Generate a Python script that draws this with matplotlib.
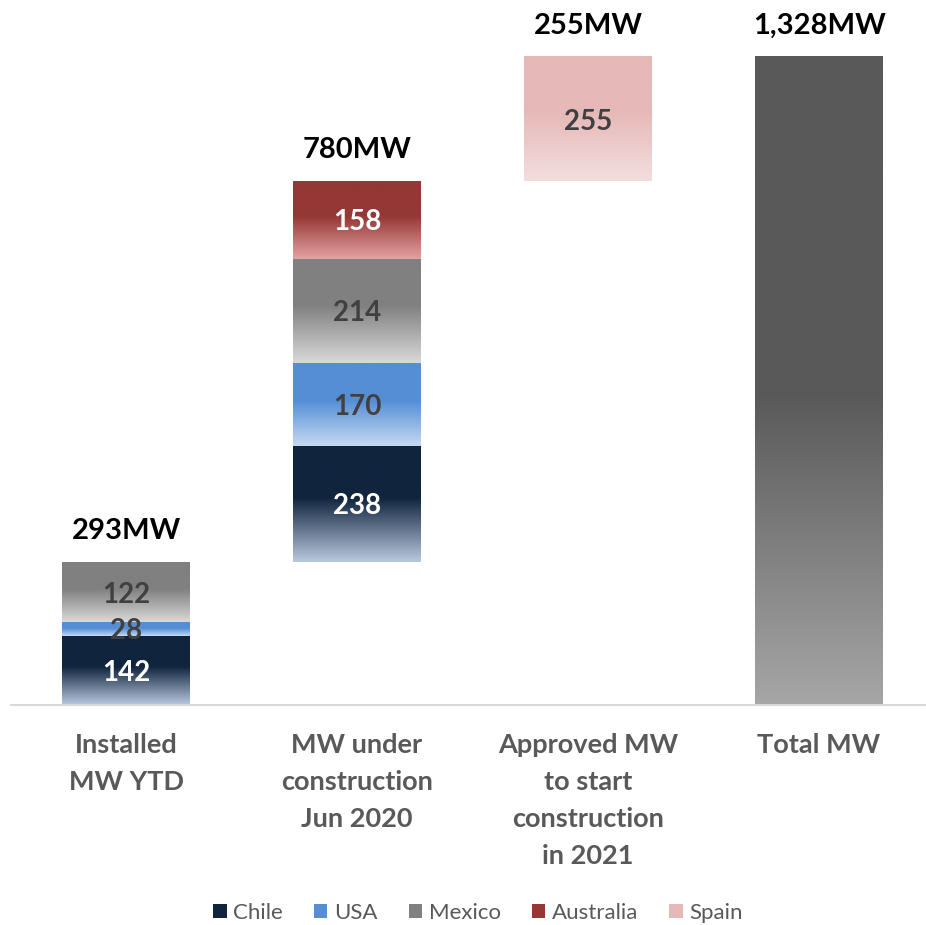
import numpy as np
import matplotlib.pyplot as plt
from matplotlib.colors import to_rgb
from matplotlib.patches import Patch

# stages of the waterfall
categories = ['Installed\nMW YTD', 'MW under\nconstruction\nJun 2020',
              'Approved MW\nto start\nconstruction\nin 2021', 'Total MW']
stage_mw = [293, 780, 255, 1328]
stage_labels = ['293MW', '780MW', '255MW', '1,328MW']

# MW by country for each stage
countries = ['Chile', 'USA', 'Mexico', 'Australia', 'Spain']
chile = [142, 238, 0, 0]
usa = [28, 170, 0, 0]
mexico = [122, 214, 0, 0]
australia = [0, 158, 0, 0]
spain = [0, 0, 255, 0]
total = [0, 0, 0, 1328]

top_colors = ['#10243e', '#558ed5', '#808080', '#953735', '#e6b9b8']
bottom_colors = ['#b9c9df', '#c6d9f1', '#d9d9d9', '#e3a3a2', '#f3dede']
text_colors = ['white', '#404040', '#404040', 'white', '#404040']

plt.rcParams['font.family'] = ['Lato', 'DejaVu Sans']


def gradient_fill(ax, bar, c_top, c_bot, solid=0.45):
    # vertical gradient: solid colour on top, fading towards the bottom
    x0, y0 = bar.get_x(), bar.get_y()
    w, h = bar.get_width(), bar.get_height()
    t = np.linspace(0, 1, 256)
    f = np.clip((t - solid) / (1 - solid), 0, 1)
    a = np.array(to_rgb(c_top))
    b = np.array(to_rgb(c_bot))
    img = a[None, :] * (1 - f[:, None]) + b[None, :] * f[:, None]
    ax.imshow(img[:, None, :], extent=(x0, x0 + w, y0, y0 + h), origin='upper',
              aspect='auto', interpolation='bilinear', zorder=2)


fig = plt.figure(figsize=(9.26, 9.25), dpi=100)
ax = fig.add_axes([11 / 926, 220 / 925, 915 / 926, 705 / 925])

x = np.arange(len(categories))
width = 0.554
bottom = np.array([0, stage_mw[0], stage_mw[0] + stage_mw[1], 0], dtype=float)

series = [chile, usa, mexico, australia, spain]
for vals, ct, cb, tc in zip(series, top_colors, bottom_colors, text_colors):
    bars = ax.bar(x, vals, width, bottom=bottom, color='none', linewidth=0)
    for bar, v in zip(bars, vals):
        if v == 0:
            continue
        gradient_fill(ax, bar, ct, cb)
        ax.text(bar.get_x() + bar.get_width() / 2, bar.get_y() + bar.get_height() / 2,
                str(v), ha='center', va='center_baseline', fontsize=20, fontweight='bold',
                color=tc, zorder=3)
    bottom += np.array(vals)

tbars = ax.bar(x, total, width, color='none', linewidth=0)
for bar, v in zip(tbars, total):
    if v:
        gradient_fill(ax, bar, '#595959', '#a6a6a6', solid=0.52)

# stage totals above bars
tops = [stage_mw[0], stage_mw[0] + stage_mw[1], stage_mw[0] + stage_mw[1] + stage_mw[2], stage_mw[3]]
for xi, top, lab in zip(x, tops, stage_labels):
    ax.annotate(lab, (xi, top), xytext=(0, 13), textcoords='offset points',
                ha='center', va='bottom', fontsize=21, fontweight='bold', color='black')

ax.set_xticks(x, categories)
ax.tick_params(axis='x', length=0, pad=20, labelsize=19.5, labelcolor='#595959')
for lab in ax.get_xticklabels():
    lab.set_fontweight('bold')
    lab.set_linespacing(1.66)
ax.set_yticks([])
for s in ['top', 'left', 'right']:
    ax.spines[s].set_visible(False)
ax.spines['bottom'].set_color('#d9d9d9')
ax.spines['bottom'].set_linewidth(1.5)
ax.set_xlim(-0.498, 3.463)
ax.set_ylim(0, 1444.8)

handles = [Patch(facecolor=c, edgecolor='none') for c in top_colors]
fig.legend(handles, countries, loc='center', bbox_to_anchor=(478 / 926, 1 - 913 / 925),
           ncol=5, frameon=False, fontsize=16, labelcolor='#595959',
           handlelength=0.6, handleheight=0.6, handletextpad=0.3, columnspacing=1.4)

plt.savefig('out.png', dpi=100)
